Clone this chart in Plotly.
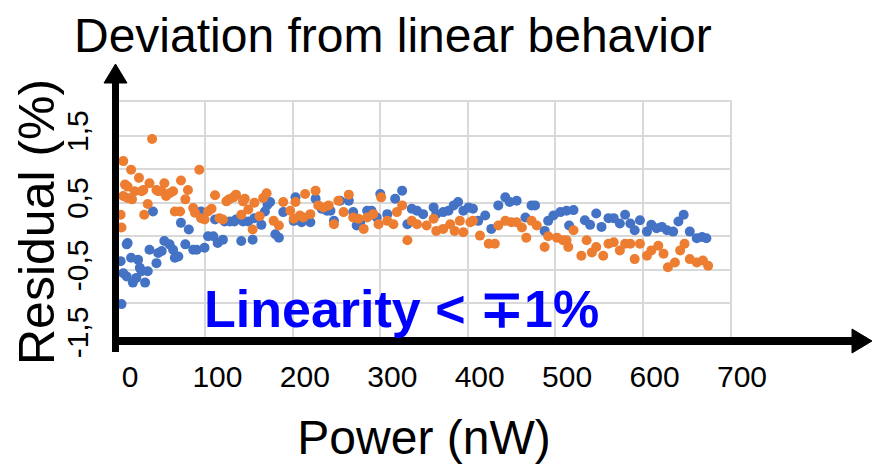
import plotly.graph_objects as go

# Canvas and plot-area geometry (pixels)
W, H = 872, 464
ML, MR, MT, MB = 118, 142, 102, 127
PW = W - ML - MR
PH = H - MT - MB

# Residual of the linear fit, series 1 (blue)
power_blue = [3, 4, 6, 10, 10, 11, 15, 17, 21, 23, 25, 27, 31, 34, 36, 40, 44, 46, 50, 53,
              59, 63, 65, 69, 72, 77, 81, 86, 90, 95, 99, 103, 109, 111, 114, 120, 122, 128,
              133, 135, 141, 143, 149, 154, 156, 164, 168, 171, 174, 180, 184, 189, 201, 203,
              210, 220, 226, 233, 239, 243, 247, 254, 264, 269, 273, 277, 285, 290, 296, 300,
              308, 317, 325, 331, 336, 342, 349, 361, 364, 372, 378, 384, 389, 395, 401, 406,
              412, 420, 427, 435, 443, 448, 456, 466, 473, 477, 488, 492, 498, 506, 513, 516,
              521, 534, 540, 547, 553, 561, 567, 574, 580, 586, 591, 597, 605, 610, 616, 622,
              628, 635, 641, 647, 654, 662, 668, 673]
resid_blue = [-0.37, -1.01, -0.55, -0.12, -0.60, -0.10, -0.32, -0.69, -0.62, -0.35, -0.47, -0.52,
              -0.69, -0.52, -0.20, 0.37, -0.40, -0.25, -0.22, -0.07, -0.12, -0.20, -0.32, -0.30,
              0.20, -0.12, 0.10, -0.20, -0.20, 0.37, -0.17, 0.00, 0.00, 0.25, -0.10, -0.05, 0.22,
              0.22, 0.22, 0.25, -0.07, 0.22, 0.22, -0.05, 0.27, 0.17, 0.37, 0.47, 0.51, 0.03,
              -0.02, 0.36, 0.23, 0.58, 0.21, 0.21, 0.56, 0.41, 0.38, 0.38, 0.23, 0.53, 0.53, 0.36,
              0.16, 0.21, 0.38, 0.38, 0.28, 0.63, 0.33, 0.56, 0.68, 0.18, 0.41, 0.38, 0.33, 0.43,
              0.33, 0.36, 0.38, 0.46, 0.51, 0.38, 0.43, 0.41, 0.23, 0.31, 0.11, 0.46, 0.58, 0.51,
              0.53, 0.28, 0.46, 0.46, 0.08, 0.23, 0.31, 0.36, 0.38, 0.16, 0.39, 0.24, 0.17, 0.34,
              0.14, 0.27, 0.27, 0.19, 0.32, 0.19, 0.09, 0.24, 0.07, 0.17, 0.12, 0.14, 0.09, 0.07,
              0.22, 0.32, 0.07, -0.03, -0.01, -0.03]

# Residual of the linear fit, series 2 (orange)
power_orange = [3, 4, 6, 6, 8, 11, 11, 15, 16, 19, 24, 27, 29, 30, 34, 36, 39, 44, 46, 50, 53,
                55, 59, 63, 65, 71, 72, 77, 80, 86, 88, 93, 95, 99, 103, 107, 111, 116, 120, 124,
                127, 132, 135, 141, 143, 145, 149, 154, 156, 162, 166, 170, 178, 184, 189, 197,
                201, 203, 208, 212, 214, 220, 226, 229, 235, 241, 247, 252, 258, 264, 269, 275,
                281, 285, 292, 298, 301, 308, 315, 319, 325, 331, 336, 342, 353, 361, 364, 372,
                380, 385, 391, 395, 403, 406, 414, 424, 431, 435, 443, 450, 456, 462, 467, 473,
                479, 488, 492, 502, 509, 513, 515, 521, 530, 536, 542, 547, 555, 561, 567, 574,
                580, 586, 591, 597, 605, 610, 618, 624, 629, 637, 643, 648, 654, 662, 669, 675]
resid_orange = [0.32, 0.13, 1.12, 0.60, 0.77, 0.74, 0.57, 0.99, 0.55, 0.67, 0.87, 0.67, 0.69,
                0.32, 0.48, 0.79, 1.45, 0.69, 0.67, 0.67, 0.79, 0.60, 0.64, 0.67, 0.37, 0.37,
                0.83, 0.55, 0.69, 0.42, 0.35, 0.99, 0.27, 0.25, 0.37, 0.41, 0.61, 0.27, 0.25,
                0.52, 0.55, 0.58, 0.62, 0.32, 0.52, 0.56, 0.40, 0.10, 0.50, 0.30, 0.57, 0.64,
                0.23, 0.16, 0.51, 0.38, 0.26, 0.51, 0.31, 0.28, 0.63, 0.33, 0.68, 0.46, 0.43,
                0.46, 0.18, 0.53, 0.36, 0.62, 0.28, 0.26, 0.11, 0.28, 0.33, 0.18, 0.58, 0.23,
                0.18, 0.36, 0.46, -0.06, 0.23, 0.18, 0.16, 0.26, 0.08, 0.11, 0.18, 0.08, 0.23,
                0.06, 0.21, 0.23, 0.01, -0.11, -0.11, 0.16, 0.23, 0.21, 0.21, 0.13, -0.02, 0.23,
                0.16, -0.16, 0.00, -0.02, -0.06, -0.06, -0.16, 0.09, -0.29, -0.06, -0.24, -0.16,
                -0.29, -0.11, -0.09, -0.21, -0.11, -0.11, -0.34, -0.11, -0.29, -0.21, -0.14,
                -0.26, -0.46, -0.39, -0.21, -0.11, -0.34, -0.39, -0.36, -0.44]

x_tick_values = [0, 100, 200, 300, 400, 500, 600, 700]
y_tick_values = [-1.5, -0.5, 0.5, 1.5]
y_tick_text = ["-1,5", "-0,5", "0,5", "1,5"]
x_range = [0, 700]
y_range = [-1.5, 2.0]

BLUE = "#4472C4"
ORANGE = "#ED7D31"
GRID = "#D9D9D9"
FONT = "Liberation Sans, Arial, sans-serif"


def px(xp):
    """pixel x -> paper x"""
    return (xp - ML) / PW


def py(yp):
    """pixel y -> paper y"""
    return (H - MB - yp) / PH


fig = go.Figure()
fig.add_trace(go.Scatter(x=power_blue, y=resid_blue, mode="markers",
                         marker=dict(color=BLUE, size=10, line=dict(width=0)),
                         showlegend=False))
fig.add_trace(go.Scatter(x=power_orange, y=resid_orange, mode="markers",
                         marker=dict(color=ORANGE, size=10, line=dict(width=0)),
                         showlegend=False))

fig.update_layout(
    width=W, height=H,
    margin=dict(l=ML, r=MR, t=MT, b=MB, pad=0, autoexpand=False),
    paper_bgcolor="white", plot_bgcolor="white",
    font=dict(family=FONT, color="black"),
    title=dict(text="Deviation from linear behavior",
               font=dict(family=FONT, size=48, color="black"),
               x=74 / W, xanchor="left", xref="container",
               y=1 - 35 / H, yanchor="middle", yref="container"),
    xaxis=dict(range=x_range, tickvals=x_tick_values, ticks="",
               automargin=False,
               ticklabelstandoff=12, ticklabelshift=12,
               tickfont=dict(family=FONT, size=30),
               showgrid=True, gridcolor=GRID, gridwidth=2,
               showline=True, linecolor=GRID, linewidth=2, mirror=True,
               zeroline=False,
               title=dict(text="Power (nW)", font=dict(family=FONT, size=48),
                          standoff=47)),
    yaxis=dict(range=y_range, tickvals=y_tick_values, ticktext=y_tick_text,
               automargin=False,
               tickangle=-90, ticks="", ticklabelstandoff=16,
               tickfont=dict(family=FONT, size=30),
               showgrid=True, gridcolor=GRID, gridwidth=2,
               minor=dict(dtick=0.5, showgrid=True, gridcolor=GRID, gridwidth=2),
               showline=True, linecolor=GRID, linewidth=2, mirror=True,
               zeroline=False),
)

# Thick black axes with arrow heads
axis_shapes = [
    dict(type="line", xref="paper", yref="paper",
         x0=px(115.5), x1=px(115.5), y0=py(352), y1=py(80),
         line=dict(color="black", width=7)),
    dict(type="path", xref="paper", yref="paper",
         path=f"M {px(104)},{py(83)} L {px(115.5)},{py(64)} L {px(127)},{py(83)} Z",
         fillcolor="black", line=dict(color="black", width=1)),
    dict(type="line", xref="paper", yref="paper",
         x0=px(112), x1=px(856), y0=py(341), y1=py(341),
         line=dict(color="black", width=8)),
    dict(type="path", xref="paper", yref="paper",
         path=f"M {px(852)},{py(329)} L {px(872)},{py(341)} L {px(852)},{py(353)} Z",
         fillcolor="black", line=dict(color="black", width=1)),
]
fig.update_layout(shapes=axis_shapes)

# Vertical axis title
fig.add_annotation(text="Residual (%)", xref="paper", yref="paper",
                   x=px(37), y=py(222), xanchor="center", yanchor="middle",
                   textangle=-90, showarrow=False,
                   font=dict(family=FONT, size=50, color="black"))

fig.add_annotation(text="Linearity < \u22131%", xref="paper", yref="paper",
                   x=px(401), y=py(309), xanchor="center", yanchor="middle",
                   showarrow=False,
                   font=dict(family=FONT, size=52, color="#0000FF", weight="bold"))

fig.write_html("out.html")
